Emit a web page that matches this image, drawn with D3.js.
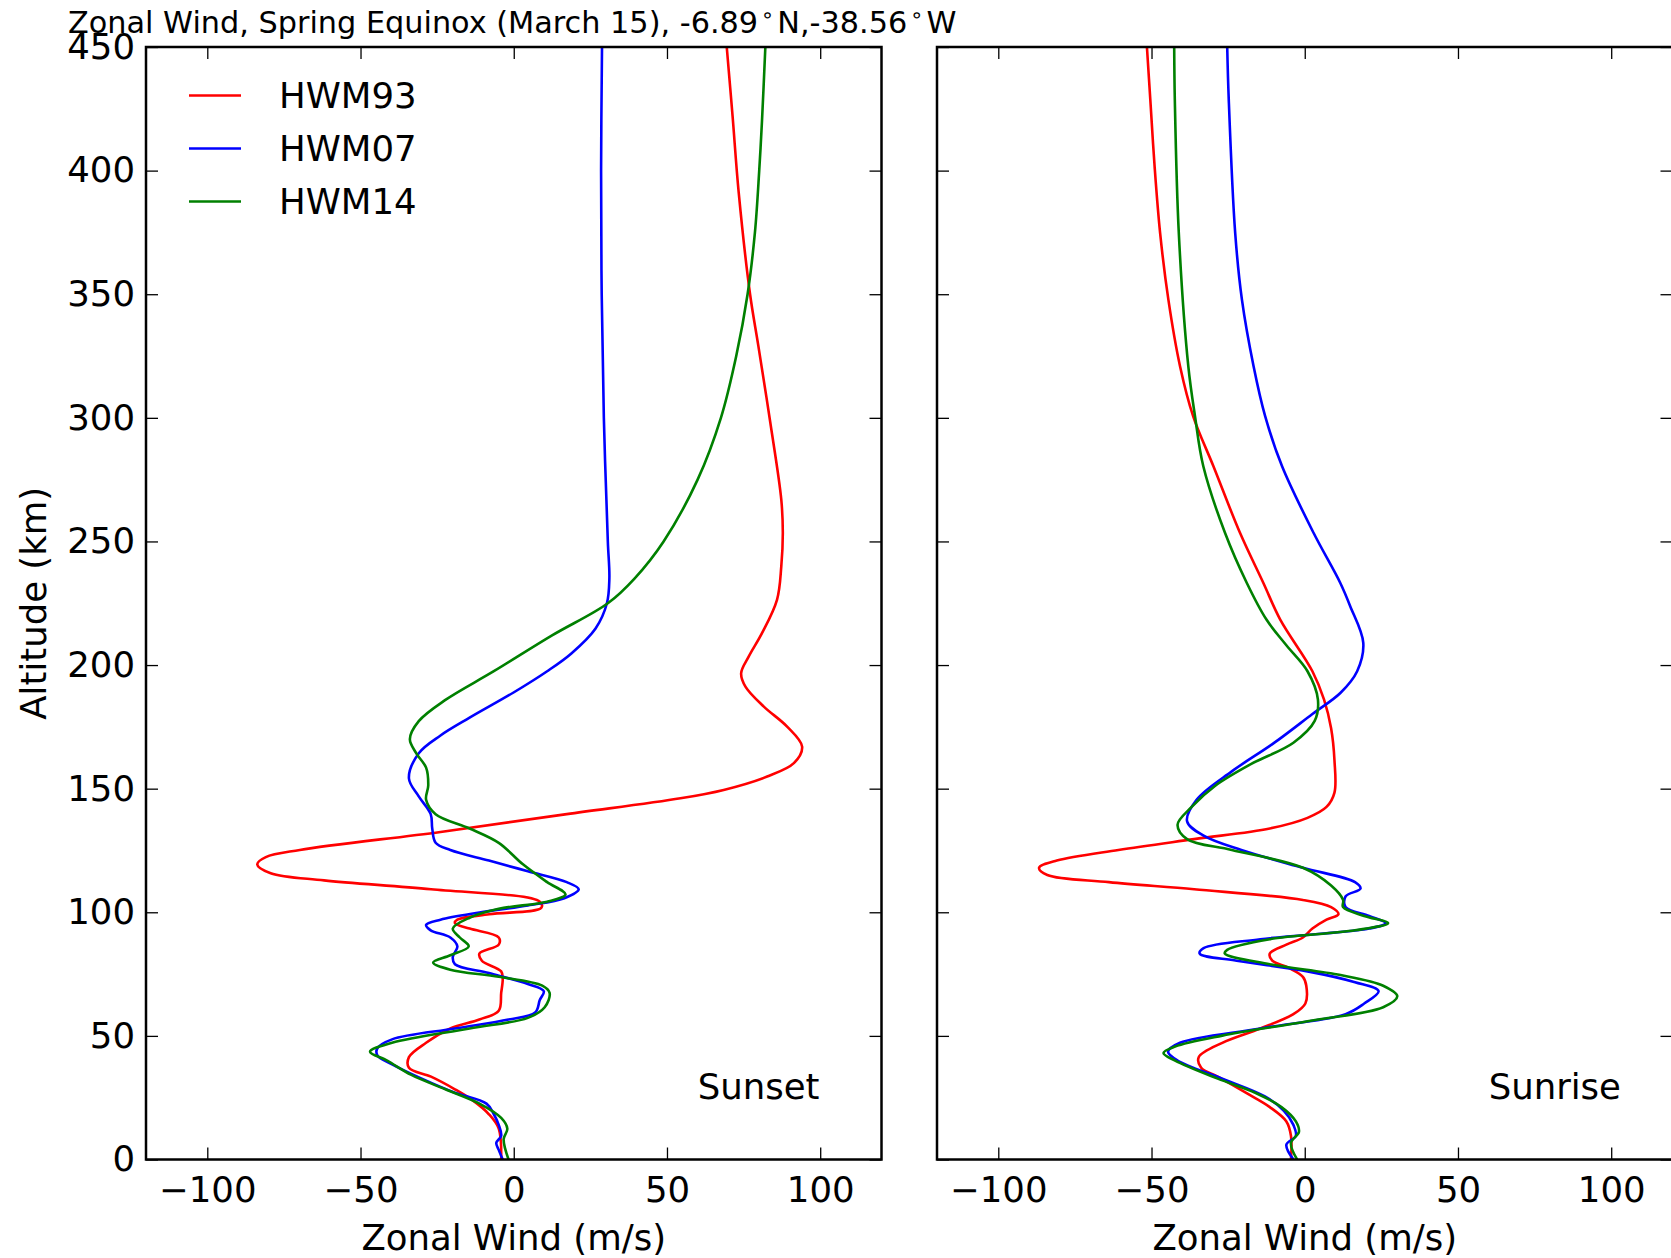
<!DOCTYPE html>
<html>
<head>
<meta charset="utf-8">
<script src="https://cdn.jsdelivr.net/npm/d3@7"></script>
<style>
  body { margin: 0; background: #fff; }
  text { font-family: "DejaVu Sans", sans-serif; fill: #000; }
</style>
</head>
<body>
<div id="chart-area"></div>
<script>
// Zonal wind profiles, [altitude km, wind m/s]

const models = ['HWM93', 'HWM07', 'HWM14'];
const modelColors = ['#ff0000', '#0000ff', '#008000'];
const panelNames = ['Sunset', 'Sunrise'];

const xTicks = [-100, -50, 0, 50, 100];
const yTicks = [0, 50, 100, 150, 200, 250, 300, 350, 400, 450];

const sunsetHWM93 = [[0,-4.1],[12.5,-4.9],[18.3,-8.1],[24.1,-13.6],[28.4,-19.2],[33.5,-27],[37.1,-34.2],[41.4,-34.2],
  [47.2,-28.6],[53,-20.7],[56.6,-11.2],[60.2,-4.9],[67.4,-4.1],[73.2,-3.6],[76.1,-4.1],[80.4,-10.4],[83.3,-11.2],
  [86.9,-4.9],[89.8,-4.9],[93.4,-14.4],[95.6,-19.2],[97,-18.4],[99.2,-8],[101.8,9],[104.3,8.5],[109.3,-27],
  [112.9,-61.9],[115.8,-79.3],[119.4,-83.7],[122.3,-80.9],[125.2,-69.8],[132.5,-23.9],[139.7,17.3],[146.1,54.4],
  [149.5,68.5],[154.9,82.7],[160.3,91.4],[167,94.1],[175.1,89.2],[183.2,81.6],[191.3,75.6],[196.7,74.2],
  [203.5,76.7],[212.9,81],[226.4,85.9],[239.9,87.3],[253.4,87.8],[266.9,87.3],[298.2,83.7],[329.2,79.8],
  [350.1,77.1],[391.2,73.4],[422.1,71.4],[450,69.5]];

const sunsetHWM07 = [[0,-3.6],[3.9,-4.9],[6.7,-5.7],[9.6,-4.1],[14,-4.9],[18.3,-6.5],[22.6,-8.9],[27,-19.2],
  [32.8,-30.2],[38.5,-39.7],[42.1,-44.5],[45,-44.5],[48.6,-39.7],[53,-19.2],[56.6,-1.7],[59.5,7],[64.5,8.5],
  [68.1,9.8],[71,4.6],[75.4,-8.1],[79,-19.2],[81.9,-19.9],[86.2,-18.4],[89.8,-20.7],[92.7,-27.1],[94.9,-28.6],
  [97,-23.9],[99.9,-11.2],[102.8,4.6],[105.7,16.5],[109.3,21.2],[112.2,17.3],[116.6,4.6],[120.9,-8.1],[125.2,-20.7],
  [128.1,-25.5],[133.9,-26.6],[139.7,-27.1],[146.9,-31],[154.1,-34.2],[164.3,-31],[171.5,-23.9],[178.7,-14.4],
  [188.8,-0.2],[197.5,10.9],[204.7,18.8],[214.8,26.7],[225,30.4],[235,31.2],[250,30.7],[300,29.4],[350,28.7],
  [400,28.5],[450,28.8]];

const sunsetHWM14 = [[0,-1.7],[8.2,-3.3],[12.5,-2.1],[16.8,-4.1],[22.6,-11.2],[28.4,-22.3],[34.2,-33.4],[40,-41.3],
  [43.6,-46.9],[47.2,-39.7],[53,-14.4],[57.3,4.6],[61.6,10.1],[67.4,11.7],[70.3,9.3],[73.9,-4.9],[76.8,-20.7],
  [79.7,-26.3],[82.6,-20.7],[86.2,-14.7],[89.8,-17.6],[93.4,-19.9],[97.8,-14.4],[101.4,-4.9],[104.3,10.9],
  [107.2,16.9],[112.2,10.9],[119.4,3],[128.1,-4.9],[133.9,-14.4],[139.7,-25.5],[145.5,-28.6],[151.3,-27.9],
  [158.5,-28.6],[164.3,-31.8],[170,-33.9],[177.3,-31],[185.9,-22.3],[197.5,-6.5],[212,12.5],[225,30.7],[235,39.4],
  [250,48.9],[275,60],[300,67.6],[325,72.6],[350,76.3],[375,78.7],[400,80.1],[420,81],[450,82.1]];

const sunriseHWM93 = [[0,-4.5],[9.6,-4.5],[15.4,-6],[21.2,-11.4],[26.9,-19.1],[33.5,-28.4],[37.1,-33.8],[41.4,-34.6],
  [47.2,-26.9],[53,-14.5],[58.8,-3.7],[63.1,0.2],[70.3,0.5],[73.9,-0.6],[77.5,-5.2],[80.4,-10.6],[83.3,-11.4],
  [86.9,-6],[89.8,-0.6],[93.4,2.5],[97,7.1],[99.2,11],[102.1,8.6],[105,-0.6],[109.3,-36.1],[112.2,-63.9],
  [115.1,-84],[118,-86.7],[120.9,-80.9],[125.2,-60.8],[129.6,-36.1],[133.9,-11.4],[138.2,0.9],[142.6,7.1],
  [148.4,9.7],[161.4,9.7],[174.4,8.6],[186,6.3],[197.5,2.5],[218.4,-8],[233.2,-13.5],[253.4,-21.1],[280.4,-29.8],
  [300.6,-36.4],[320.9,-40.7],[347.8,-44.5],[374.8,-47.2],[401.8,-49],[428.8,-50.4],[450,-51.5]];

const sunriseHWM07 = [[0,-3.7],[6,-6],[9.6,-2.9],[14,-3.7],[19.7,-6.8],[25.5,-13],[32.7,-26.9],[40,-41.5],
  [43.6,-44.6],[47.2,-40.7],[53,-14.5],[58.8,13.3],[63.1,19.4],[68.1,24.1],[71.7,16.4],[76.1,0.9],[80.4,-22.2],
  [83.3,-34.3],[85.5,-33],[89.1,-14.5],[93.4,21],[95.6,26.4],[98.5,21],[102.1,13.3],[106.4,13.3],[109.6,18.2],
  [112.2,16.4],[118,-0.6],[125.2,-20.7],[131,-33],[136.8,-38.4],[145.5,-35.3],[157,-23.8],[168.6,-9.9],
  [180.2,2.5],[188.8,11.7],[197.5,17.1],[209,19.1],[223.9,14.8],[233.2,11.6],[253.4,2.9],[280.4,-7.4],
  [300.6,-12.9],[320.9,-16.7],[347.8,-20.5],[374.8,-22.7],[428.8,-24.8],[450,-25.3]];

const sunriseHWM14 = [[0,-2.5],[6.7,-4.5],[11.1,-1.9],[15.4,-2.9],[21.2,-7.6],[26.9,-16],[32.7,-28.4],[40,-42.3],
  [43.1,-46.1],[45.7,-42.3],[50.1,-26.9],[55.9,0.9],[61.6,25.6],[66,30.2],[70.3,25.6],[74.6,11.7],[79,-11.4],
  [83.3,-26.1],[84.8,-25.3],[89.1,-11.4],[92.7,16.4],[95.6,27.2],[98.5,19.4],[102.1,12.5],[105,12.5],[110.8,8.6],
  [118,-0.6],[125.2,-23.8],[129.6,-38.4],[135.4,-41.5],[142.6,-36.9],[151.2,-29.2],[159.9,-17.6],[168.6,-3.7],
  [177.3,3.2],[186,4.3],[197.5,0.9],[208,-6],[218.4,-12.5],[233.2,-18.9],[253.4,-26],[280.4,-33.1],[300.6,-35.8],
  [320.9,-38],[374.8,-41.1],[428.8,-42.4],[450,-42.6]];

const panelSeries = [
  [sunsetHWM93, sunsetHWM07, sunsetHWM14],
  [sunriseHWM93, sunriseHWM07, sunriseHWM14]
];

const width = 1671, height = 1258;
const plotTop = 47, plotBottom = 1159.5;
const panelW = 735.5;
const panelLefts = [146, 937];
const fontSize = 35.5;

const svg = d3.select('#chart-area').append('svg')
  .attr('width', width)
  .attr('height', height)
  .style('display', 'block');

svg.append('rect').attr('width', width).attr('height', height).attr('fill', '#fff');

const y = d3.scaleLinear().domain([0, 450]).range([plotBottom, plotTop]);

panelLefts.forEach((left, p) => {
  const x = d3.scaleLinear().domain([-120, 120]).range([left, left + panelW]);

  const g = svg.append('g');

  // clip to the axes box
  const clipId = 'clip' + p;
  svg.append('clipPath').attr('id', clipId)
    .append('rect')
    .attr('x', left).attr('y', plotTop)
    .attr('width', panelW).attr('height', plotBottom - plotTop);

  const line = d3.line()
    .x(d => x(d[1]))
    .y(d => y(d[0]))
    .curve(d3.curveCatmullRom.alpha(0.5));

  g.append('g').attr('clip-path', `url(#${clipId})`)
    .selectAll('path')
    .data(panelSeries[p])
    .enter().append('path')
    .attr('d', line)
    .attr('fill', 'none')
    .attr('stroke', (d, i) => modelColors[i])
    .attr('stroke-width', 2.6)
    .attr('stroke-linejoin', 'round');

  // axes, ticks pointing inward on all sides
  const bottomAxis = g.append('g')
    .attr('transform', `translate(0, ${plotBottom})`)
    .call(d3.axisBottom(x).tickValues(xTicks).tickSizeInner(-12).tickSizeOuter(0).tickPadding(17));

  const topAxis = g.append('g')
    .attr('transform', `translate(0, ${plotTop})`)
    .call(d3.axisTop(x).tickValues(xTicks).tickSizeInner(-12).tickSizeOuter(0).tickFormat(''));

  const leftAxis = g.append('g')
    .attr('transform', `translate(${left}, 0)`)
    .call(d3.axisLeft(y).tickValues(yTicks).tickSizeInner(-12).tickSizeOuter(0).tickPadding(11)
      .tickFormat(p === 0 ? d3.format('d') : ''));

  const rightAxis = g.append('g')
    .attr('transform', `translate(${left + panelW}, 0)`)
    .call(d3.axisRight(y).tickValues(yTicks).tickSizeInner(-12).tickSizeOuter(0).tickFormat(''));

  [bottomAxis, topAxis, leftAxis, rightAxis].forEach(a => {
    a.select('.domain').remove();
    a.selectAll('line').attr('stroke', '#000').attr('stroke-width', 1.3);
    a.selectAll('text')
      .attr('font-family', '"DejaVu Sans", sans-serif')
      .attr('font-size', fontSize)
      .attr('fill', '#000');
  });

  // frame
  g.append('rect')
    .attr('x', left).attr('y', plotTop)
    .attr('width', panelW).attr('height', plotBottom - plotTop)
    .attr('fill', 'none')
    .attr('stroke', '#000')
    .attr('stroke-width', 2.5);

  // x label
  g.append('text')
    .attr('x', left + panelW / 2)
    .attr('y', 1250)
    .attr('text-anchor', 'middle')
    .attr('font-size', fontSize)
    .text('Zonal Wind (m/s)');

  // panel name
  g.append('text')
    .attr('x', x(60))
    .attr('y', y(24.5))
    .attr('font-size', fontSize)
    .text(panelNames[p]);
});

// y label
svg.append('text')
  .attr('transform', `translate(46, ${(plotTop + plotBottom) / 2}) rotate(-90)`)
  .attr('text-anchor', 'middle')
  .attr('font-size', fontSize)
  .text('Altitude (km)');

// legend
const legend = svg.append('g');
models.forEach((m, i) => {
  const ly = 95.5 + i * 53;
  legend.append('line')
    .attr('x1', 189).attr('x2', 241)
    .attr('y1', ly).attr('y2', ly)
    .attr('stroke', modelColors[i])
    .attr('stroke-width', 2.6);
  legend.append('text')
    .attr('x', 279).attr('y', ly)
    .attr('dy', '0.36em')
    .attr('font-size', fontSize)
    .text(m);
});

// title (sits over the top tick label, as in the original)
const title = svg.append('text')
  .attr('x', 68).attr('y', 33)
  .attr('font-size', 30.3);
title.append('tspan').text('Zonal Wind, Spring Equinox (March 15), -6.89');
title.append('tspan').attr('dx', 3).attr('dy', -11).attr('font-size', 21).text('\u2218');
title.append('tspan').attr('dx', 3).attr('dy', 11).text('N,-38.56');
title.append('tspan').attr('dx', 3).attr('dy', -11).attr('font-size', 21).text('\u2218');
title.append('tspan').attr('dx', 3).attr('dy', 11).text('W');
</script>
</body>
</html>
